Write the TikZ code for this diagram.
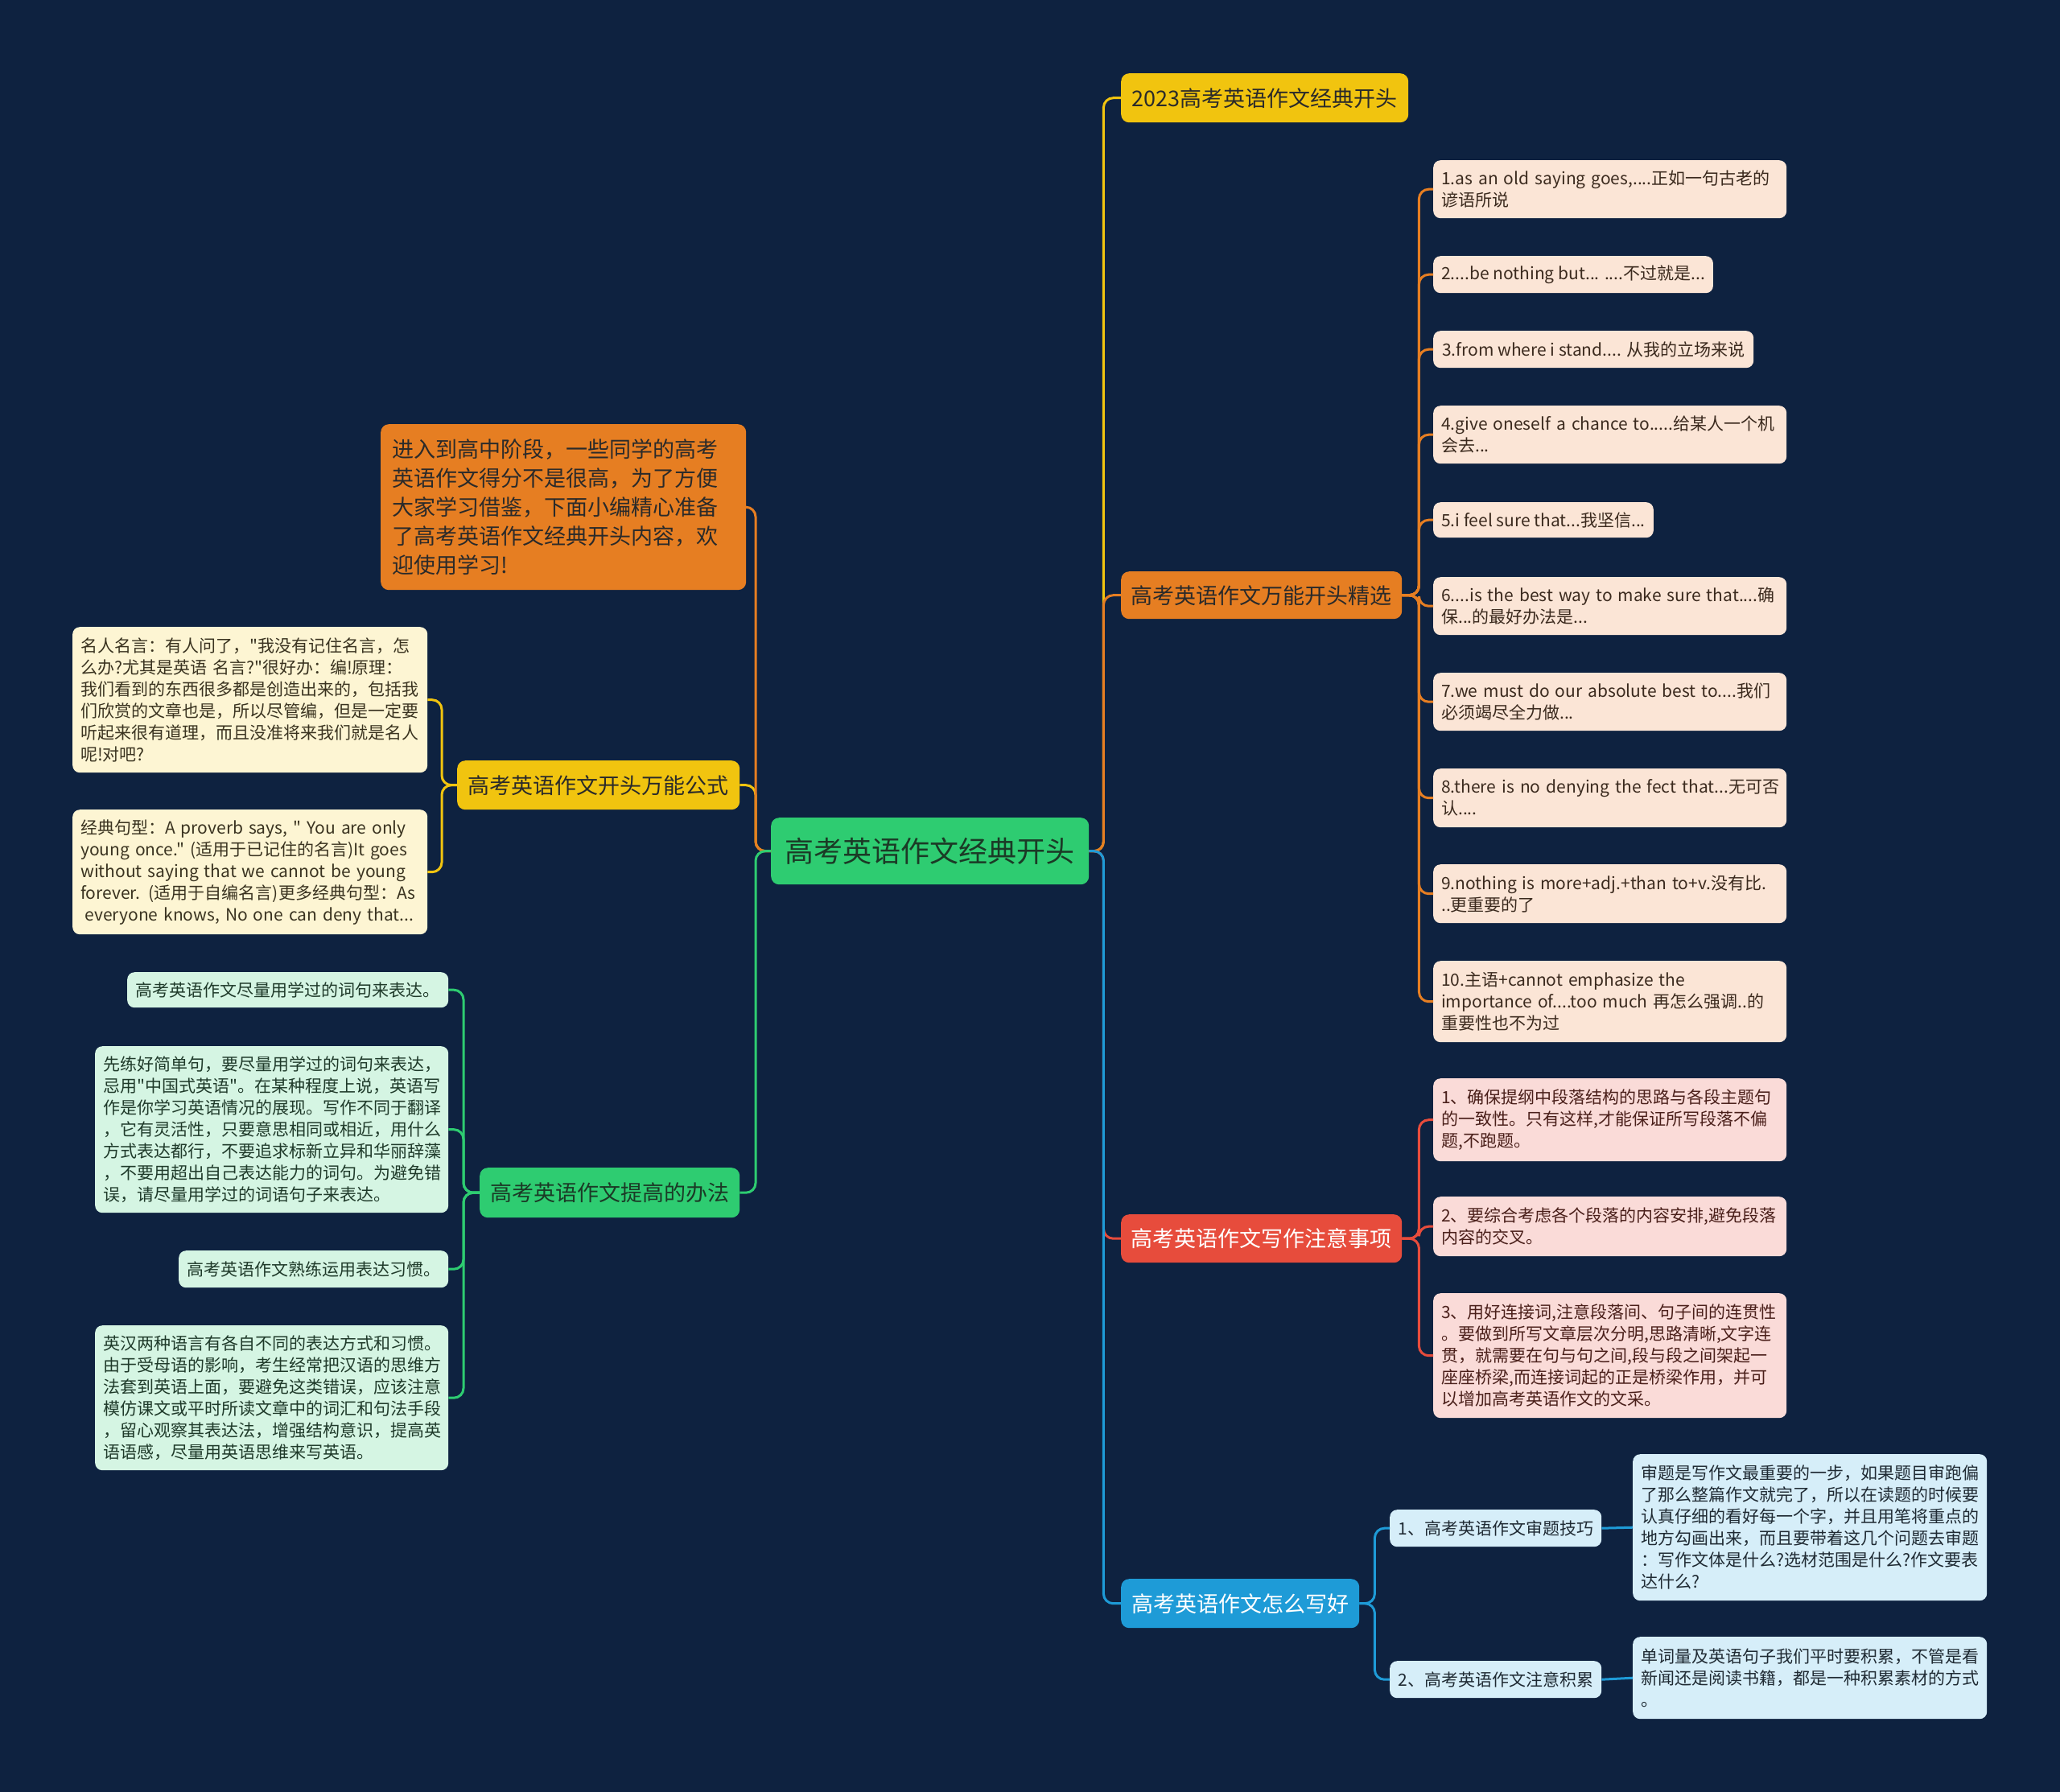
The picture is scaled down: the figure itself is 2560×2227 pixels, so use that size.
\documentclass[tikz,border=0pt]{standalone}
\usepackage{fontspec}
\setmainfont{Noto Sans CJK SC}[Ligatures=TeXOff]
\definecolor{bgc}{HTML}{0E2240}
\definecolor{cgreen}{HTML}{2ECC71}
\definecolor{corange}{HTML}{E67E22}
\definecolor{cyellow}{HTML}{F1C40F}
\definecolor{cred}{HTML}{E74C3C}
\definecolor{cblue}{HTML}{1E9BD7}
\definecolor{lpeach}{HTML}{FBE5D6}
\definecolor{lpink}{HTML}{FADBD8}
\definecolor{lsky}{HTML}{D6EEF9}
\definecolor{lcream}{HTML}{FDF5D3}
\definecolor{lmint}{HTML}{D5F5E3}
\definecolor{tdark}{HTML}{2A2A2A}
\definecolor{tgreen}{HTML}{1B3A26}
\definecolor{tbrown}{HTML}{3B2A1E}
\definecolor{tmaroon}{HTML}{4A1F1A}
\definecolor{tnavy}{HTML}{1F2A33}
\definecolor{tolive}{HTML}{3A3320}
\definecolor{tmint}{HTML}{1F3A2A}
\newcommand{\mmbox}[7]{%
  \pgfmathsetmacro{\mmtw}{#5-20}%
  \node[#2, minimum width=#5pt, minimum height=#6pt, text width=\mmtw pt, align=left] (#1) at (#3,#4) {#7};}
\newcommand{\mmone}[7]{%
  \node[#2, minimum width=#5pt, minimum height=#6pt, align=center] (#1) at (#3,#4) {#7};}
\begin{document}
\begin{tikzpicture}[x=1pt,y=-1pt,
  boxbase/.style={rounded corners=9pt, inner xsep=10pt, inner ysep=0pt, anchor=north west},
  leaf/.style={boxbase, font=\fontsize{21}{27}\selectfont},
  branch/.style={boxbase, rounded corners=10pt, font=\fontsize{27}{34}\selectfont},
  conn/.style={line width=3pt, rounded corners=12pt},
  lpB/.style={leaf, fill=lpeach, text=tbrown},
  lpC/.style={leaf, fill=lpink, text=tmaroon},
  lpD/.style={leaf, fill=lsky, text=tnavy},
  lpF/.style={leaf, fill=lcream, text=tolive},
  lpG/.style={leaf, fill=lmint, text=tmint}]
\fill[bgc] (0,0) rectangle (2560,2227);
\useasboundingbox (0,0) rectangle (2560,2227);

% central
\mmone{center}{boxbase, rounded corners=10pt, fill=cgreen, text=tgreen, font=\fontsize{36}{44}\selectfont}{958}{1016}{395}{83}{高考英语作文经典开头}

% right branches
\mmone{A}{branch, fill=cyellow, text=tdark}{1393}{91}{357}{61}{2023高考英语作文经典开头}
\mmone{B}{branch, fill=corange, text=tdark}{1393}{710}{349}{59}{高考英语作文万能开头精选}
\mmone{C}{branch, fill=cred, text=white}{1393}{1509}{349}{60}{高考英语作文写作注意事项}
\mmone{D}{branch, fill=cblue, text=white}{1393}{1962}{296}{61}{高考英语作文怎么写好}

% B leaves
\mmbox{b1}{lpB}{1781}{199}{439}{72}{\mbox{1.as an old saying goes,....正如一句古老的}\\谚语所说}
\mmone{b2}{lpB}{1781}{318}{343}{46}{2....be nothing but... ....不过就是...}
\mmone{b3}{lpB}{1781}{411}{398}{46}{3.from where i stand.... 从我的立场来说}
\mmbox{b4}{lpB}{1781}{504}{439}{72}{\mbox{4.give oneself a chance to.....给某人一个机}\\会去...}
\mmone{b5}{lpB}{1781}{624}{273}{44}{5.i feel sure that...我坚信...}
\mmbox{b6}{lpB}{1781}{717}{439}{72}{\mbox{6....is the best way to make sure that....确}\\保...的最好办法是...}
\mmbox{b7}{lpB}{1781}{836}{439}{72}{\mbox{7.we must do our absolute best to....我们}\\必须竭尽全力做...}
\mmbox{b8}{lpB}{1781}{955}{439}{73}{\mbox{8.there is no denying the fect that...无可否}\\认....}
\mmbox{b9}{lpB}{1781}{1074}{439}{73}{\mbox{9.nothing is more+adj.+than to+v.没有比.}\\..更重要的了}
\mmbox{b10}{lpB}{1781}{1194}{439}{101}{10.主语+cannot emphasize the\\\mbox{importance of....too much 再怎么强调..的}\\重要性也不为过}

% C leaves
\mmbox{c1}{lpC}{1781}{1340}{439}{103}{1、确保提纲中段落结构的思路与各段主题句\\的一致性。只有这样,才能保证所写段落不偏\\题,不跑题。}
\mmbox{c2}{lpC}{1781}{1487}{439}{74}{2、要综合考虑各个段落的内容安排,避免段落\\内容的交叉。}
\mmbox{c3}{lpC}{1781}{1607}{439}{155}{3、用好连接词,注意段落间、句子间的连贯性\\。要做到所写文章层次分明,思路清晰,文字连\\贯，就需要在句与句之间,段与段之间架起一\\座座桥梁,而连接词起的正是桥梁作用，并可\\以增加高考英语作文的文采。}

% D children
\mmone{d1}{lpD}{1727}{1876}{263}{46}{1、高考英语作文审题技巧}
\mmone{d2}{lpD}{1727}{2064}{263}{46}{2、高考英语作文注意积累}
\mmbox{d1l}{lpD}{2029}{1807}{440}{182}{审题是写作文最重要的一步，如果题目审跑偏\\了那么整篇作文就完了，所以在读题的时候要\\认真仔细的看好每一个字，并且用笔将重点的\\地方勾画出来，而且要带着这几个问题去审题\\：写作文体是什么?选材范围是什么?作文要表\\达什么?}
\mmbox{d2l}{lpD}{2029}{2034}{440}{102}{单词量及英语句子我们平时要积累，不管是看\\新闻还是阅读书籍，都是一种积累素材的方式\\。}

% left branches
\mmbox{E}{branch, fill=corange, text=tdark, font=\fontsize{27}{36}\selectfont, inner xsep=14pt}{473}{527}{446}{206}{进入到高中阶段，一些同学的高考\\英语作文得分不是很高，为了方便\\大家学习借鉴，下面小编精心准备\\了高考英语作文经典开头内容，欢\\迎使用学习!}
\mmone{F}{branch, fill=cyellow, text=tdark}{568}{945}{351}{61}{高考英语作文开头万能公式}
\mmone{G}{branch, fill=cgreen, text=tgreen}{596}{1451}{323}{62}{高考英语作文提高的办法}

% F leaves
\mmbox{F1}{lpF}{90}{779}{441}{181}{名人名言：有人问了，"我没有记住名言，怎\\么办?尤其是英语 名言?"很好办：编!原理：\\我们看到的东西很多都是创造出来的，包括我\\们欣赏的文章也是，所以尽管编，但是一定要\\听起来很有道理，而且没准将来我们就是名人\\呢!对吧?}
\mmbox{F2}{lpF}{90}{1006}{441}{155}{\mbox{经典句型：A proverb says, " You are only}\\\mbox{young once." (适用于已记住的名言)It goes}\\\mbox{without saying that we cannot be young}\\\mbox{forever. (适用于自编名言)更多经典句型：As}\\\mbox{\hspace*{0.25em}everyone knows, No one can deny that...}}

% G leaves
\mmone{G1}{lpG}{158}{1208}{399}{44}{高考英语作文尽量用学过的词句来表达。}
\mmbox{G2}{lpG}{118}{1300}{439}{207}{先练好简单句，要尽量用学过的词句来表达，\\忌用"中国式英语"。在某种程度上说，英语写\\作是你学习英语情况的展现。写作不同于翻译\\，它有灵活性，只要意思相同或相近，用什么\\方式表达都行，不要追求标新立异和华丽辞藻\\，不要用超出自己表达能力的词句。为避免错\\误，请尽量用学过的词语句子来表达。}
\mmone{G3}{lpG}{222}{1554}{335}{46}{高考英语作文熟练运用表达习惯。}
\mmbox{G4}{lpG}{118}{1647}{439}{180}{英汉两种语言有各自不同的表达方式和习惯。\\由于受母语的影响，考生经常把汉语的思维方\\法套到英语上面，要避免这类错误，应该注意\\模仿课文或平时所读文章中的词汇和句法手段\\，留心观察其表达法，增强结构意识，提高英\\语语感，尽量用英语思维来写英语。}

% connectors: right
\draw[conn, cyellow] (center.east) -- ++(18,0) |- (A.west);
\draw[conn, corange] (center.east) -- ++(18,0) |- (B.west);
\draw[conn, cred] (center.east) -- ++(18,0) |- (C.west);
\draw[conn, cblue] (center.east) -- ++(18,0) |- (D.west);
% connectors: left
\draw[conn, cyellow] (center.west) -- ++(-19,0) |- (F.east);
\draw[conn, corange] (center.west) -- ++(-19,0) |- (E.east);
\draw[conn, cgreen] (center.west) -- ++(-19,0) |- (G.east);
% B leaves
\foreach \n in {b1,b2,b3,b4,b5,b6,b7,b8,b9,b10}
  \draw[conn, corange] (B.east) -- ++(21,0) |- (\n.west);
% C leaves
\foreach \n in {c1,c2,c3}
  \draw[conn, cred] (C.east) -- ++(21,0) |- (\n.west);
% D children
\foreach \n in {d1,d2}
  \draw[conn, cblue] (D.east) -- ++(19,0) |- (\n.west);
\draw[conn, cblue] (d1.east) -- (d1l.west);
\draw[conn, cblue] (d2.east) -- (d2l.west);
% F leaves
\foreach \n in {F1,F2}
  \draw[conn, cyellow] (F.west) -- ++(-19,0) |- (\n.east);
% G leaves
\foreach \n in {G1,G2,G3,G4}
  \draw[conn, cgreen] (G.west) -- ++(-20,0) |- (\n.east);
\end{tikzpicture}
\end{document}
